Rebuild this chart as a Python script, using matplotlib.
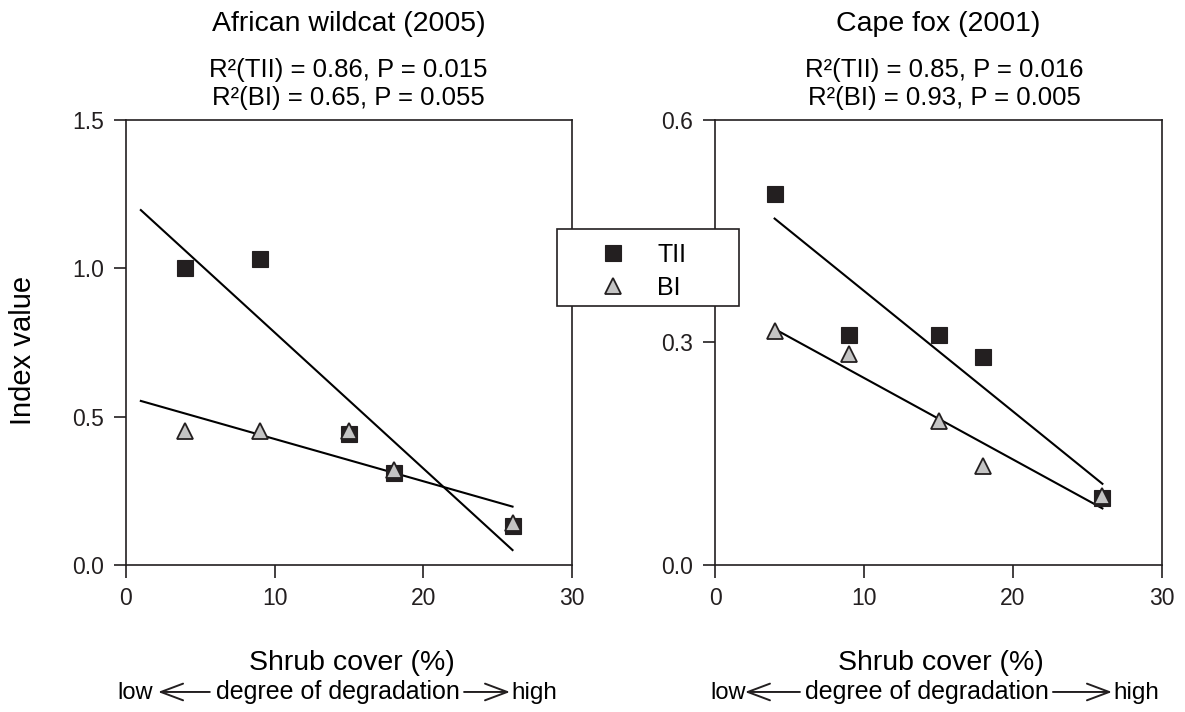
import numpy as np
import matplotlib.pyplot as plt
from matplotlib.patches import Rectangle

plt.rcParams['font.family'] = ['Liberation Sans', 'DejaVu Sans']

# shrub cover (%) of the sites
shrub = [4, 9, 15, 18, 26]

# African wildcat (2005)
cat_tii = [1.00, 1.03, 0.44, 0.31, 0.13]
cat_bi = [0.45, 0.45, 0.45, 0.32, 0.14]

# Cape fox (2001)
fox_tii = [0.50, 0.31, 0.31, 0.28, 0.09]
fox_bi = [0.315, 0.284, 0.194, 0.133, 0.093]

titles = ['African wildcat (2005)', 'Cape fox (2001)']
stats = [['R\u00b2(TII) = 0.86, P = 0.015', 'R\u00b2(BI) = 0.65, P = 0.055'],
         ['R\u00b2(TII) = 0.85, P = 0.016', 'R\u00b2(BI) = 0.93, P = 0.005']]
line_ranges = [(1, 26), (4, 26)]
y_limits = [1.5, 0.6]
y_ticks = [[0.0, 0.5, 1.0, 1.5], [0.0, 0.3, 0.6]]
x_ticks = [0, 10, 20, 30]

DARK = '#231f20'

fig = plt.figure(figsize=(11.85, 7.12), dpi=100)
ax1 = fig.add_axes([0.1063, 0.2065, 0.3764, 0.625])
ax2 = fig.add_axes([0.6034, 0.2065, 0.3772, 0.625])
axes = [ax1, ax2]
data = [(cat_tii, cat_bi), (fox_tii, fox_bi)]

for i, ax in enumerate(axes):
    tii, bi = data[i]
    x0, x1 = line_ranges[i]
    xx = np.array([x0, x1])
    # least squares lines
    for ys in (tii, bi):
        k, b = np.polyfit(shrub, ys, 1)
        ax.plot(xx, k * xx + b, color='black', lw=1.5, zorder=2)
    ax.plot(shrub, tii, 's', ms=11.5, color=DARK, mec=DARK,
            mew=0.8, label='TII', zorder=3, clip_on=False)
    ax.plot(shrub, bi, '^', ms=12, color='#c4c4c4', mec=DARK,
            mew=1.3, label='BI', zorder=4, clip_on=False)

    ax.set_xlim(0, 30)
    ax.set_ylim(0, y_limits[i])
    ax.set_xticks(x_ticks)
    ax.set_yticks(y_ticks[i])
    ax.set_yticklabels([f'{v:.1f}' for v in y_ticks[i]])
    ax.tick_params(direction='out', length=9, width=1.2, labelsize=16.5,
                   pad=7, colors=DARK)
    for sp in ax.spines.values():
        sp.set_linewidth(1.2)
        sp.set_color(DARK)

    ax.text(0.5, 1.2, titles[i], transform=ax.transAxes,
            ha='center', va='baseline', fontsize=20.5)
    sx = 0.499 if i == 0 else 0.513
    ax.text(sx, 1.0966, stats[i][0], transform=ax.transAxes,
            ha='center', va='baseline', fontsize=18.5)
    ax.text(sx, 1.0337, stats[i][1], transform=ax.transAxes,
            ha='center', va='baseline', fontsize=18.5)

    ax.text(0.506, -0.236, 'Shrub cover (%)', transform=ax.transAxes,
            ha='center', va='baseline', fontsize=20.5)

# degradation arrows beneath each x axis (axes fractions)
arrow_layout = [
    dict(low=-0.02, a1=(0.072, 0.188), mid=0.475, a2=(0.758, 0.861), high=0.865),
    dict(low=-0.011, a1=(0.067, 0.19), mid=0.474, a2=(0.756, 0.888), high=0.891),
]
for ax, lay in zip(axes, arrow_layout):
    yb = -0.3011
    ya = -0.2854
    ax.text(lay['low'], yb, 'low', transform=ax.transAxes, ha='left',
            va='baseline', fontsize=17)
    ax.text(lay['mid'], yb, 'degree of degradation',
            transform=ax.transAxes, ha='center', va='baseline', fontsize=18)
    ax.text(lay['high'], yb, 'high', transform=ax.transAxes, ha='left',
            va='baseline', fontsize=17.5)
    style = dict(arrowstyle='->, head_length=0.8, head_width=0.3',
                 lw=1.4, color=DARK, shrinkA=0, shrinkB=0, mutation_scale=20)
    ax.annotate('', xy=(lay['a1'][0], ya), xytext=(lay['a1'][1], ya),
                xycoords='axes fraction', textcoords='axes fraction',
                arrowprops=style)
    ax.annotate('', xy=(lay['a2'][1], ya), xytext=(lay['a2'][0], ya),
                xycoords='axes fraction', textcoords='axes fraction',
                arrowprops=style)

fig.text(0.0194, 0.508, 'Index value', rotation=90, ha='center', va='center',
         fontsize=21)

# legend box sits over both inner spines
box = Rectangle((557 / 1185, 406 / 712), 182 / 1185, 77 / 712,
                transform=fig.transFigure, facecolor='white', edgecolor=DARK,
                linewidth=1.2, zorder=5)
fig.add_artist(box)

handles, labels = ax1.get_legend_handles_labels()
leg = fig.legend(handles, labels, loc='center left',
                 bbox_to_anchor=(600.5 / 1185, 0.6187),
                 fontsize=18, frameon=False, handletextpad=1.26,
                 borderpad=0, labelspacing=0.35, handlelength=1.0,
                 borderaxespad=0)
leg.set_zorder(6)

fig.savefig('out.png', dpi=100)
